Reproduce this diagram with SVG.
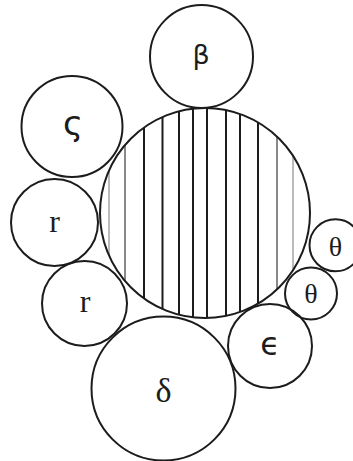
<svg xmlns="http://www.w3.org/2000/svg" width="353" height="461" viewBox="0 0 353 461">
<style>
.c{fill:none;stroke:#1c1c1c;stroke-width:2}
.bg{fill:#fff}
.h{stroke:#1c1c1c;stroke-width:2}
.h1{stroke:#777;stroke-width:1}
.h2{stroke:#4a4a4a;stroke-width:1.3}
.s{font-family:"DejaVu Sans",sans-serif;fill:#1c1c1c;text-anchor:middle}
.t{font-family:"Liberation Serif",serif;fill:#1c1c1c;text-anchor:middle}
</style>
<defs>
<clipPath id="bigclip"><circle cx="205" cy="213" r="105"/></clipPath>
</defs>
<rect width="353" height="461" fill="#fff"/>
<g id="connectors"/>
<g id="node-center">
<g clip-path="url(#bigclip)">
<line class="h1" x1="109" y1="100" x2="109" y2="330"/>
<line class="h2" x1="125" y1="100" x2="125" y2="330"/>
<line class="h" x1="144" y1="100" x2="144" y2="330"/>
<line class="h" x1="162.5" y1="100" x2="162.5" y2="330"/>
<line class="h" x1="179" y1="100" x2="179" y2="330"/>
<line class="h" x1="193" y1="100" x2="193" y2="330"/>
<line class="h" x1="207" y1="100" x2="207" y2="330"/>
<line class="h" x1="226" y1="100" x2="226" y2="330"/>
<line class="h" x1="240" y1="100" x2="240" y2="330"/>
<line class="h" x1="258" y1="100" x2="258" y2="330"/>
<line class="h2" x1="277" y1="100" x2="277" y2="330"/>
<line class="h1" x1="293" y1="100" x2="293" y2="330"/>
</g>
<circle class="c" cx="205" cy="213" r="105"/>
</g>
<g id="node-beta">
<circle class="c" cx="201.5" cy="56.5" r="51.5"/>
<text class="s" x="201" y="64" font-size="27">β</text>
</g>
<g id="node-sigma">
<circle class="c" cx="72" cy="126.5" r="50.5"/>
<text class="s" x="73" y="135" font-size="34">ς</text>
</g>
<g id="node-r1">
<circle class="c" cx="54.5" cy="222.5" r="43.5"/>
<text class="t" x="54.5" y="232" font-size="32">r</text>
</g>
<g id="node-r2">
<circle class="c" cx="84.5" cy="303.5" r="42.5"/>
<text class="t" x="85" y="311.5" font-size="32">r</text>
</g>
<g id="node-delta">
<circle class="c" cx="163.5" cy="388.5" r="72"/>
<text class="t" x="163.5" y="401.5" font-size="34">δ</text>
</g>
<g id="node-epsilon">
<circle class="c" cx="270" cy="346" r="42"/>
<text class="s" x="270" y="355" font-size="32">ϵ</text>
</g>
<g id="node-theta1">
<circle class="c" cx="335.5" cy="245.3" r="26"/>
<text class="t" x="335.5" y="255.5" font-size="28">θ</text>
</g>
<g id="node-theta2">
<circle class="c" cx="311" cy="293.5" r="26"/>
<text class="t" x="311" y="303" font-size="28">θ</text>
</g>
</svg>
